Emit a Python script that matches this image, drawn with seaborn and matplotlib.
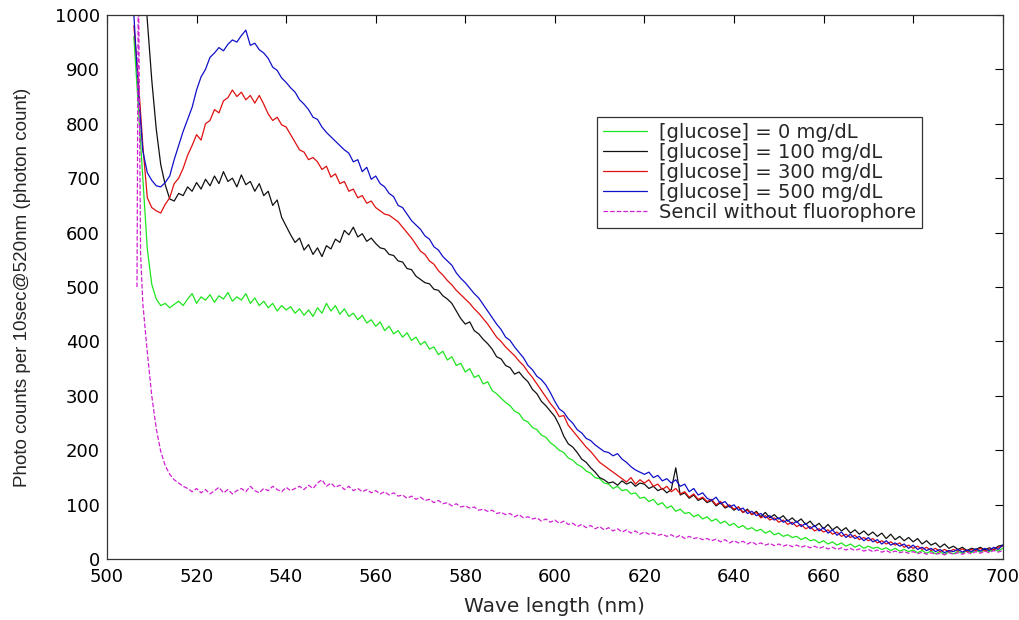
import matplotlib
matplotlib.use("Agg")
import matplotlib.pyplot as plt
import seaborn as sns
import pandas as pd

# ---------------- data ----------------
wavelength = list(range(506, 701))  # 506 .. 700 nm, 1 nm steps

glucose_0 = [
    960, 830, 700, 570,
    505, 478, 466, 470, 462, 468, 474, 466, 478, 488,
    470, 482, 476, 486, 472, 484, 478, 490, 474, 482,
    476, 488, 470, 480, 466, 474, 462, 470, 456, 466,
    458, 464, 452, 460, 448, 458, 446, 462, 452, 470,
    456, 466, 450, 460, 446, 452, 440, 448, 434, 440,
    428, 436, 420, 428, 414, 420, 408, 416, 402, 408,
    394, 400, 386, 390, 376, 382, 366, 372, 356, 360,
    344, 350, 334, 338, 322, 326, 310, 304, 296, 288,
    282, 272, 268, 256, 252, 242, 238, 228, 224, 214,
    208, 200, 196, 186, 182, 174, 170, 162, 158, 150,
    148, 140, 138, 130, 134, 126, 128, 120, 122, 112,
    114, 106, 110, 100, 104, 94, 98, 88, 92, 84,
    86, 78, 82, 74, 78, 70, 74, 66, 70, 62,
    66, 58, 62, 55, 58, 52, 55, 48, 52, 45,
    48, 42, 45, 40, 42, 36, 40, 34, 36, 30,
    34, 28, 32, 26, 30, 24, 28, 22, 26, 20,
    24, 20, 22, 18, 21, 16, 20, 15, 18, 14,
    17, 12, 16, 11, 15, 10, 14, 9, 13, 10,
    14, 11, 15, 12, 16, 13, 17, 14, 18, 15,
    20,
]

glucose_100 = [
    1400, 1250, 1110, 990,
    880, 790, 725, 688, 662, 658, 672, 668, 684, 676,
    692, 680, 698, 686, 704, 690, 712, 694, 700, 684,
    706, 688, 694, 676, 690, 668, 676, 650, 660, 628,
    612, 596, 582, 590, 568, 578, 560, 572, 556, 576,
    570, 588, 582, 604, 596, 610, 592, 598, 584, 590,
    580, 572, 570, 560, 558, 548, 546, 534, 532, 520,
    514, 508, 506, 496, 494, 484, 478, 470, 456, 442,
    432, 436, 420, 414, 404, 396, 386, 372, 368, 356,
    352, 340, 344, 334, 326, 312, 304, 290, 282, 272,
    262, 246, 226, 212, 206, 196, 184, 178, 168, 160,
    150, 146, 140, 142, 136, 144, 138, 142, 134, 140,
    138, 130, 134, 126, 130, 122, 128, 168, 118, 122,
    112, 118, 108, 112, 104, 108, 98, 104, 94, 98,
    90, 96, 86, 92, 82, 88, 78, 86, 76, 82,
    74, 80, 70, 76, 68, 74, 64, 70, 60, 66,
    56, 64, 54, 60, 52, 58, 48, 54, 46, 52,
    44, 50, 42, 48, 38, 46, 36, 42, 34, 40,
    32, 38, 28, 34, 26, 30, 22, 28, 20, 24,
    18, 22, 16, 20, 18, 22, 17, 21, 18, 24,
    26,
]

glucose_300 = [
    980, 880, 760, 664,
    646, 640, 636, 652, 664, 690, 700, 718, 742, 760,
    780, 770, 800, 806, 826, 820, 842, 848, 862, 850,
    858, 844, 852, 838, 852, 836, 818, 806, 812, 798,
    794, 780, 766, 752, 748, 734, 738, 730, 716, 722,
    702, 708, 690, 694, 676, 680, 664, 668, 654, 658,
    646, 640, 634, 632, 626, 620, 610, 600, 590, 578,
    566, 560, 548, 542, 530, 522, 512, 504, 494, 486,
    478, 470, 460, 452, 442, 432, 420, 408, 400, 390,
    382, 374, 364, 356, 344, 334, 322, 310, 298, 286,
    276, 262, 264, 246, 236, 226, 216, 206, 198, 188,
    178, 172, 166, 160, 154, 148, 142, 150, 138, 146,
    140, 146, 134, 138, 128, 134, 124, 130, 120, 124,
    114, 120, 110, 114, 106, 110, 100, 106, 96, 100,
    92, 96, 86, 90, 82, 86, 76, 80, 72, 76,
    68, 72, 64, 68, 60, 64, 56, 60, 52, 56,
    50, 54, 46, 50, 42, 46, 40, 44, 36, 40,
    34, 38, 30, 34, 28, 32, 26, 30, 22, 26,
    20, 24, 18, 22, 16, 20, 14, 18, 14, 18,
    15, 19, 14, 18, 16, 20, 15, 19, 17, 22,
    24,
]

glucose_500 = [
    1000, 860, 750, 710,
    696, 686, 684, 692, 704, 734, 760, 786, 808, 830,
    862, 886, 900, 922, 930, 940, 934, 946, 954, 950,
    962, 972, 944, 948, 936, 930, 920, 904, 898, 884,
    876, 866, 858, 844, 836, 826, 812, 808, 794, 784,
    776, 768, 760, 752, 746, 730, 734, 712, 720, 698,
    704, 690, 684, 672, 666, 650, 646, 634, 622, 614,
    606, 594, 588, 574, 568, 556, 548, 540, 526, 516,
    508, 498, 488, 480, 468, 456, 444, 432, 422, 408,
    402, 390, 380, 370, 356, 348, 336, 330, 320, 306,
    290, 276, 270, 258, 250, 238, 232, 222, 218, 210,
    204, 198, 196, 190, 194, 184, 178, 170, 164, 160,
    156, 160, 150, 154, 144, 148, 140, 146, 134, 138,
    124, 130, 118, 122, 112, 108, 114, 102, 106, 96,
    100, 90, 94, 84, 88, 80, 84, 76, 80, 72,
    76, 68, 72, 64, 70, 60, 66, 56, 62, 52,
    58, 48, 54, 44, 50, 40, 46, 38, 42, 34,
    40, 32, 36, 28, 34, 26, 30, 24, 28, 20,
    26, 18, 22, 16, 20, 14, 18, 12, 16, 14,
    18, 13, 17, 14, 19, 15, 20, 16, 22, 18,
    26,
]

wavelength_blank = [506.7, 507.0, 507.5] + list(range(508, 701))
no_fluorophore = [
    500, 1100, 560,
    470, 380,
    300, 240, 198, 172, 156, 146, 140, 134, 130, 124,
    130, 122, 128, 120, 126, 132, 122, 128, 120, 126,
    130, 124, 134, 126, 122, 130, 126, 134, 128, 124,
    132, 126, 130, 134, 128, 136, 130, 140, 146, 134,
    140, 132, 136, 128, 134, 126, 130, 124, 128, 122,
    126, 120, 124, 118, 122, 116, 118, 112, 116, 110,
    114, 108, 110, 104, 108, 102, 104, 98, 102, 96,
    98, 94, 96, 90, 92, 88, 90, 84, 86, 82,
    84, 78, 82, 76, 78, 74, 76, 70, 74, 68,
    72, 66, 70, 64, 66, 60, 64, 58, 62, 56,
    60, 54, 58, 52, 56, 50, 54, 48, 52, 46,
    50, 46, 48, 44, 46, 42, 45, 40, 44, 38,
    42, 38, 40, 36, 38, 34, 37, 32, 36, 30,
    34, 30, 33, 28, 32, 27, 30, 26, 29, 25,
    28, 24, 27, 23, 26, 22, 25, 21, 24, 20,
    23, 19, 22, 18, 21, 17, 20, 16, 19, 15,
    18, 14, 17, 13, 16, 12, 15, 12, 14, 11,
    14, 10, 13, 9, 12, 9, 11, 8, 12, 9,
    12, 9, 13, 10, 14, 11, 15, 12, 16, 13,
    16,
]

labels = ["[glucose] = 0 mg/dL", "[glucose] = 100 mg/dL",
          "[glucose] = 300 mg/dL", "[glucose] = 500 mg/dL",
          "Sencil without fluorophore"]
x_ticks = [500, 520, 540, 560, 580, 600, 620, 640, 660, 680, 700]
y_ticks = [0, 100, 200, 300, 400, 500, 600, 700, 800, 900, 1000]

# ---------------- style ----------------
sns.set_style("white")
plt.rcParams["font.family"] = ["DejaVu Sans"]

fig = plt.figure(figsize=(10.19, 6.2), dpi=100)
ax = fig.add_axes([0.105, 0.098, 0.879, 0.878])

series = [
    (wavelength, glucose_0, labels[0], "#1ee61e", "-"),
    (wavelength, glucose_100, labels[1], "#111111", "-"),
    (wavelength, glucose_300, labels[2], "#e01010", "-"),
    (wavelength, glucose_500, labels[3], "#1010c8", "-"),
    (wavelength_blank, no_fluorophore, labels[4], "#d020d0", "--"),
]
for xs, ys, lab, col, ls in series:
    df = pd.DataFrame({"wl": xs, "val": ys})
    sns.lineplot(data=df, x="wl", y="val", ax=ax, color=col, label=lab,
                 linewidth=0.9, linestyle=ls, sort=False)

ax.set_xlim(500, 700)
ax.set_ylim(0, 1000)
ax.set_xticks(x_ticks)
ax.set_yticks(y_ticks)
ax.tick_params(direction="in", length=6, width=0.8, top=True, right=True,
               labelsize=13, colors="black", pad=5)
ax.tick_params(axis="x", pad=6.5)
for s in ax.spines.values():
    s.set_visible(True)
    s.set_color("#333333")
    s.set_linewidth(0.9)

ax.set_xlabel("Wave length (nm)", fontsize=14.5, labelpad=8)
ax.set_ylabel("Photo counts per 10sec@520nm (photon count)", fontsize=13.5,
              family="Liberation Sans", labelpad=17)

leg = ax.legend(loc="upper left", bbox_to_anchor=(0.547, 0.8125),
                borderaxespad=0, fontsize=14, handlelength=2.3,
                labelspacing=0.05, borderpad=0.3, handletextpad=0.6,
                frameon=True, fancybox=False, framealpha=1)
leg.get_frame().set_edgecolor("#333333")
leg.get_frame().set_linewidth(0.9)

fig.savefig("out.png", dpi=100)
